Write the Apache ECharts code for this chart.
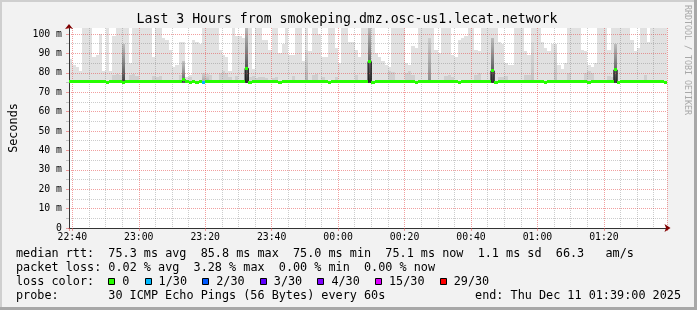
<!DOCTYPE html>
<html>
<head>
<meta charset="utf-8">
<script src="https://cdn.jsdelivr.net/npm/echarts@6.0.0/dist/echarts.min.js"></script>
<style>
html,body{margin:0;padding:0;background:#f2f2f2;}
#chart{width:697px;height:310px;}
</style>
</head>
<body>
<div id="chart"></div>
<script>
// ================= DATA =================
const titleText = 'Last 3 Hours from smokeping.dmz.osc-us1.lecat.network';
const yAxisName = 'Seconds';
// x = minutes after 22:40 ; graph spans 22:39 .. 01:39
const xMin = -1, xMax = 179;
const xTickMinutes = [0, 20, 40, 60, 80, 100, 120, 140, 160];
const xTickLabels = ['22:40', '23:00', '23:20', '23:40', '00:00', '00:20', '00:40', '01:00', '01:20'];
const yMax = 103.1; // ms
const yTickValues = [0, 10, 20, 30, 40, 50, 60, 70, 80, 90, 100];
const yTickLabels = ['0', '10 m', '20 m', '30 m', '40 m', '50 m', '60 m', '70 m', '80 m', '90 m', '100 m'];

const C = 105;        // max ping above the top of the graph (clipped)
const minPing = 74.9; // lower edge of the smoke (ms)
// highest ping of each minute (ms), one per minute starting 22:39
const smokeMax = [
  87, 84, 83, 81, C, C, C, 88, 89, 100,
  81, C, 81, 99, C, C, C, C, 85, C,
  C, C, C, C, C, 88, C, C, 98, 97,
  92, 83, 84, 96, 96, 78, 79, 97, 96, 95,
  C, C, C, C, C, 92, 89, 88, 81, C,
  99, 99, 98, C, C, 82, C, C, 97, 97,
  92, C, C, 90, 95, C, 89, 89, C, C,
  86, C, 91, C, C, 100, 88, 88, C, C,
  93, 85, C, C, 96, 96, 92, 88, C, C,
  C, C, 90, 88, 86, 84, 83, C, C, C,
  C, 85, 84, 94, 93, C, C, C, C, C,
  92, 90, C, C, C, 89, 88, 97, 98, 99,
  C, C, 92, 91, C, C, C, C, C, 96,
  95, 85, 84, 84, C, C, C, 91, 89, C,
  C, C, 96, 93, 91, 95, 86, 84, 82, 85,
  C, C, C, C, 92, 91, 84, 83, 85, C,
  C, C, 92, C, C, C, C, C, C, 97,
  91, 93, C, C, 96, C, C, C, C, C
];
// second-highest band of pings: [minute index, ms]
const innerSmoke = [[13,79],[14,79.5],[15,79],[18,79],[19,79.5],[20,78.5],[25,78.5],[26,78],[27,78.5],[33,79],[36,78],
  [41,79.5],[42,79],[45,80],[46,81],[47,80],[48,78],[50,78.5],[54,78],[55,78.5],[56,77.5],[57,78],[58,78],[59,77.5],
  [61,77.5],[62,78],[67,78.5],[73,79],[74,79.5],[76,78],[80,78],[86,79],[96,81],[97,80.5],[101,80],[102,81],[103,79],
  [113,78.5],[114,79],[115,78],[122,79],[123,80],[129,78],[130,78],[131,78.5],[137,79],[138,79],[146,79],[150,80],
  [155,80],[156,81],[157,80],[162,78.5],[163,78],[173,79]];
// dense smoke (many pings high): [minute index, top ms, density 0..1]
const denseSmoke = [[16,95,0.85],[34,86,0.7],[40,80,0.35],[41,79,0.3],[53,C,0.95],[71,92,0.25],[90,C,0.95],
  [108,98,0.45],[127,98,0.9],[139,96,0.15],[146,95,0.15],[164,95,0.9]];
// median rtt of each minute (ms)
const median = [
  75.3,75.3,75.3,75.3,75.4,75.3,75.3,75.3,75.3,75.3,
  75.3,75.0,75.3,75.3,75.3,75.3,75.0,75.3,75.3,75.3,
  75.3,75.3,75.3,75.3,75.3,75.3,75.3,75.3,75.3,75.3,
  75.3,75.3,75.3,75.6,76.5,75.3,75.0,75.3,75.0,75.3,
  75.2,75.3,75.3,75.3,75.3,75.3,75.6,75.3,75.3,75.3,
  75.3,75.3,75.6,82.3,75.0,75.3,75.3,75.3,75.3,75.3,
  75.3,75.3,75.3,75.0,75.3,75.3,75.3,75.3,75.3,75.3,
  75.3,75.3,75.3,75.3,75.3,75.3,75.3,75.3,75.0,75.3,
  75.3,75.3,75.3,75.3,75.3,75.3,75.3,75.3,75.3,75.6,
  85.8,75.0,75.3,75.3,75.3,75.3,75.3,75.3,75.3,75.3,
  75.3,75.3,75.3,75.3,75.0,75.3,75.3,75.3,75.3,75.3,
  75.3,75.3,75.3,75.3,75.3,75.3,75.3,75.0,75.3,75.3,
  75.3,75.3,75.3,75.3,75.3,75.3,75.3,81.0,75.0,75.3,
  75.3,75.3,75.3,75.3,75.3,75.3,75.3,75.3,75.3,75.3,
  75.3,75.3,75.3,75.0,75.3,75.3,75.3,75.3,75.3,75.3,
  75.3,75.3,75.3,75.3,75.3,75.3,75.0,75.3,75.3,75.3,
  75.3,75.3,75.3,75.3,81.5,75.0,75.3,75.3,75.3,75.3,
  75.3,75.3,75.3,75.3,75.3,75.3,75.3,75.3,75.3,75.1
];
// lost pings: [minute index, pings lost out of 30]
const lossEvents = [[40, 1]];
const lossThresholds = [0, 1, 2, 3, 4, 15, 29];
const lossLabels = ['0', '1/30', '2/30', '3/30', '4/30', '15/30', '29/30'];
const medianStats = ['75.3 ms avg', '85.8 ms max', '75.0 ms min', '75.1 ms now', '1.1 ms sd', '66.3   am/s'];
const lossStats = ['0.02 % avg', '3.28 % max', '0.00 % min', '0.00 % now'];
const probeText = '30 ICMP Echo Pings (56 Bytes) every 60s';
const endText = 'end: Thu Dec 11 01:39:00 2025';
const watermark = 'RRDTOOL / TOBI OETIKER';

// ================= STYLE =================
const FONT = "'DejaVu Sans Mono', monospace";
const lossColors = ['#26ff00', '#00b8ff', '#0059ff', '#5e00ff', '#7e00ff', '#dd00ff', '#ff0000'];
const RED_GRID = 'rgba(230,80,80,0.55)';
const GRAY_GRID = 'rgba(110,110,110,0.35)';
function gray(v) { v = Math.max(0, Math.min(255, Math.round(v))); return 'rgb(' + v + ',' + v + ',' + v + ')'; }
function lossColor(n) {
  let c = lossColors[0];
  for (let i = 0; i < lossThresholds.length; i++) if (n >= lossThresholds[i]) c = lossColors[i];
  return c;
}
const lossMap = new Map(lossEvents);

function colRect(params, api, i, lo, hi) {
  const p0 = api.coord([xMin + i, hi]);
  const p1 = api.coord([xMin + i + 1, lo]);
  const x = Math.round(p0[0]), y = Math.round(p0[1]);
  const shape = { x: x, y: y, width: Math.round(p1[0]) - x, height: Math.round(p1[1]) - y };
  const cs = params.coordSys;
  return echarts.graphic.clipRectByRect(shape, { x: cs.x, y: cs.y, width: cs.width, height: cs.height });
}

const chart = echarts.init(document.getElementById('chart'), null, { renderer: 'canvas', width: 697, height: 310 });

const medianLine = [];
median.forEach((m, i) => { medianLine.push([xMin + i, m]); medianLine.push([xMin + i + 1, m]); });

// legend graphics
const CW = 7.1, LX = 16;
const g = [];
g.push({ type: 'rect', shape: { x: 0, y: 0, width: 697, height: 2 }, style: { fill: '#cfcfcf' }, silent: true, z: 100 });
g.push({ type: 'rect', shape: { x: 0, y: 0, width: 2, height: 310 }, style: { fill: '#cfcfcf' }, silent: true, z: 100 });
g.push({ type: 'rect', shape: { x: 694, y: 0, width: 3, height: 310 }, style: { fill: '#a8a8a8' }, silent: true, z: 100 });
g.push({ type: 'rect', shape: { x: 0, y: 307, width: 697, height: 3 }, style: { fill: '#a8a8a8' }, silent: true, z: 100 });
function txt(text, x, y, size, extra) {
  return Object.assign({ type: 'text', x: x, y: y, silent: true, z: 50,
    style: Object.assign({ text: text, font: size + 'px ' + FONT, fill: '#000', align: 'left', verticalAlign: 'middle' }, extra || {}) });
}
g.push(txt(titleText, 347, 20, 13.2, { align: 'center' }));
g.push(txt('median rtt:  ' + medianStats.join('  '), LX, 254, 11.8));
g.push(txt('packet loss: ' + lossStats.join('  '), LX, 268, 11.8));
g.push(txt('loss color:', LX, 282, 11.8));
let cur = LX + 13 * CW;
lossLabels.forEach((lab, i) => {
  g.push({ type: 'rect', shape: { x: Math.round(cur) + 0.5, y: 278.5, width: 6, height: 6 },
    style: { fill: lossColors[i], stroke: '#000', lineWidth: 1 }, silent: true, z: 50 });
  g.push(txt(lab, cur + 14, 282, 11.8));
  cur += 14 + lab.length * CW + 2 * CW + 1;
});
g.push(txt('probe:', LX, 296, 11.8));
g.push(txt(probeText, LX + 13 * CW, 296, 11.8));
g.push(txt(endText, 681, 296, 11.8, { align: 'right' }));
g.push(Object.assign(txt(watermark, 687.5, 5, 8.3, { fill: '#a8a8a8' }), { rotation: -Math.PI / 2 }));

const option = {
  animation: false,
  backgroundColor: '#f2f2f2',
  grid: { left: 67, right: 30, top: 28, bottom: 82, show: true, backgroundColor: '#ffffff', borderWidth: 0 },
  graphic: g,
  xAxis: [{
    type: 'value', min: xMin, max: xMax, minInterval: 20, maxInterval: 20, splitNumber: 9, z: 3,
    axisLine: { show: true, onZero: false, lineStyle: { color: '#333', width: 1 } },
    axisTick: { show: true, length: 3, lineStyle: { color: RED_GRID } },
    minorTick: { show: false, splitNumber: 4 },
    axisLabel: {
      formatter: v => { const k = xTickMinutes.indexOf(Math.round(v)); return (k >= 0 && Math.abs(v - Math.round(v)) < 1e-6) ? xTickLabels[k] : ''; },
      fontFamily: FONT, fontSize: 9.8, color: '#000', margin: 4
    },
    splitLine: { show: true, lineStyle: { color: RED_GRID, width: 1, type: [1, 1] } },
    minorSplitLine: { show: true, lineStyle: { color: GRAY_GRID, width: 1, type: [1, 1] } }
  }, {
    type: 'value', min: xMin, max: xMax, position: 'bottom', z: 3,
    axisLine: { show: true, onZero: false, symbol: ['none', 'arrow'], symbolSize: [6, 6], symbolOffset: [0, 3.5],
      lineStyle: { color: '#7f0000', width: 0 } },
    axisTick: { show: false }, axisLabel: { show: false }, splitLine: { show: false }
  }],
  yAxis: [{
    type: 'value', min: 0, max: yMax, interval: 10, z: 3,
    axisLine: { show: true, onZero: false, lineStyle: { color: '#333', width: 1 } },
    axisTick: { show: true, length: 3, lineStyle: { color: RED_GRID } },
    minorTick: { show: true, splitNumber: 2, length: 3, lineStyle: { color: GRAY_GRID } },
    axisLabel: {
      formatter: v => { const k = yTickValues.indexOf(v); return k >= 0 ? yTickLabels[k] : ''; },
      fontFamily: FONT, fontSize: 9.8, color: '#000', margin: 7
    },
    splitLine: { show: true, showMinLine: false, showMaxLine: false, lineStyle: { color: RED_GRID, width: 1, type: [1, 1] } },
    minorSplitLine: { show: true, lineStyle: { color: GRAY_GRID, width: 1, type: [1, 1] } },
    name: yAxisName, nameLocation: 'middle', nameGap: 49, nameRotate: 90,
    nameTextStyle: { fontFamily: FONT, fontSize: 11.8, color: '#000' }
  }, {
    type: 'value', min: 0, max: yMax, position: 'left', z: 3,
    axisLine: { show: true, onZero: false, symbol: ['none', 'arrow'], symbolSize: [6, 5], symbolOffset: [0, 4],
      lineStyle: { color: '#7f0000', width: 0 } },
    axisTick: { show: false }, axisLabel: { show: false }, splitLine: { show: false }
  }],
  series: [{
    type: 'custom', z: 1, silent: true,
    data: smokeMax.map((v, i) => [i, v]),
    renderItem: (params, api) => {
      const shape = colRect(params, api, api.value(0), minPing, api.value(1));
      return shape ? { type: 'rect', shape: shape, style: { fill: '#e1e1e1' } } : null;
    }
  }, {
    type: 'custom', z: 1, silent: true,
    data: innerSmoke,
    renderItem: (params, api) => {
      const shape = colRect(params, api, api.value(0), minPing, api.value(1));
      return shape ? { type: 'rect', shape: shape, style: { fill: '#cfcfcf' } } : null;
    }
  }, {
    type: 'custom', z: 1, silent: true,
    data: denseSmoke,
    renderItem: (params, api) => {
      const d = api.value(2);
      const shape = colRect(params, api, api.value(0), minPing, api.value(1));
      if (!shape) return null;
      return { type: 'rect', shape: shape, style: { fill: new echarts.graphic.LinearGradient(0, 0, 0, 1, [
        { offset: 0, color: gray(224 - 40 * d) }, { offset: 0.55, color: gray(222 - 115 * d) }, { offset: 1, color: gray(222 - 190 * d) }]) } };
    }
  }, {
    type: 'line', z: 4, silent: true, symbol: 'none', data: medianLine,
    lineStyle: { color: '#111', width: 1 }
  }, {
    type: 'custom', z: 5, silent: true,
    data: median.map((v, i) => [i, v]),
    renderItem: (params, api) => {
      const i = api.value(0);
      const p0 = api.coord([xMin + i, api.value(1)]);
      const p1 = api.coord([xMin + i + 1, api.value(1)]);
      const x = Math.round(p0[0]);
      const y = Math.round(p0[1] - 1.5);
      return { type: 'rect', shape: { x: x, y: y, width: Math.round(p1[0]) - x, height: 3 },
        style: { fill: lossColor(lossMap.get(i) || 0) } };
    }
  }]
};
chart.setOption(option);
</script>
</body>
</html>
